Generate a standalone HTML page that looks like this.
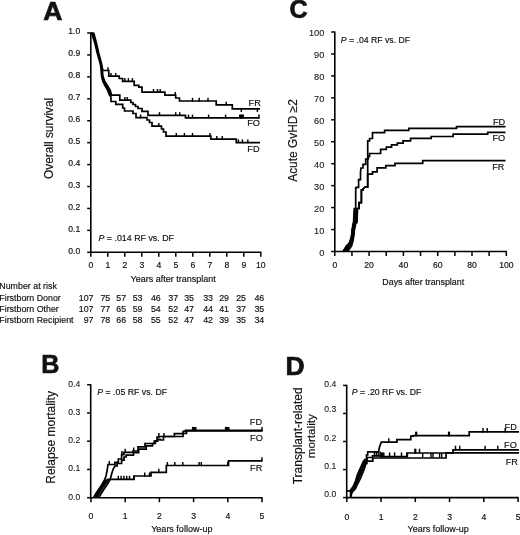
<!DOCTYPE html>
<html><head><meta charset="utf-8"><style>
html,body{margin:0;padding:0;background:#fff;}
svg{display:block;}
text{font-family:"Liberation Sans", sans-serif;fill:#111;stroke:#111;stroke-width:0.17px;}
svg{will-change:transform;}
</style></head><body>
<svg width="520" height="535" viewBox="0 0 520 535" stroke="#000" stroke-linecap="butt">
<g stroke="none">
</g>
<text transform="translate(43.3,19.6) scale(1.0,1.0)" font-size="26.5" font-weight="bold" style="stroke-width:0.7px">A</text>
<line x1="90.8" y1="32.4" x2="90.8" y2="252.9" stroke-width="1.6"/>
<line x1="87.2" y1="33.0" x2="90.8" y2="33.0" stroke-width="1.5"/>
<text x="80.2" y="34.2" font-size="8.6" text-anchor="end" >1.0</text>
<line x1="87.2" y1="54.93" x2="90.8" y2="54.93" stroke-width="1.5"/>
<text x="80.2" y="56.13" font-size="8.6" text-anchor="end" >0.9</text>
<line x1="87.2" y1="76.86" x2="90.8" y2="76.86" stroke-width="1.5"/>
<text x="80.2" y="78.06" font-size="8.6" text-anchor="end" >0.8</text>
<line x1="87.2" y1="98.79" x2="90.8" y2="98.79" stroke-width="1.5"/>
<text x="80.2" y="99.99" font-size="8.6" text-anchor="end" >0.7</text>
<line x1="87.2" y1="120.72" x2="90.8" y2="120.72" stroke-width="1.5"/>
<text x="80.2" y="121.92" font-size="8.6" text-anchor="end" >0.6</text>
<line x1="87.2" y1="142.65" x2="90.8" y2="142.65" stroke-width="1.5"/>
<text x="80.2" y="143.85" font-size="8.6" text-anchor="end" >0.5</text>
<line x1="87.2" y1="164.58" x2="90.8" y2="164.58" stroke-width="1.5"/>
<text x="80.2" y="165.78" font-size="8.6" text-anchor="end" >0.4</text>
<line x1="87.2" y1="186.51" x2="90.8" y2="186.51" stroke-width="1.5"/>
<text x="80.2" y="187.71" font-size="8.6" text-anchor="end" >0.3</text>
<line x1="87.2" y1="208.44" x2="90.8" y2="208.44" stroke-width="1.5"/>
<text x="80.2" y="209.64" font-size="8.6" text-anchor="end" >0.2</text>
<line x1="87.2" y1="230.37" x2="90.8" y2="230.37" stroke-width="1.5"/>
<text x="80.2" y="231.57" font-size="8.6" text-anchor="end" >0.1</text>
<line x1="87.2" y1="252.3" x2="90.8" y2="252.3" stroke-width="1.5"/>
<text x="80.2" y="253.5" font-size="8.6" text-anchor="end" >0.0</text>
<line x1="90.2" y1="252.3" x2="261.40000000000003" y2="252.3" stroke-width="1.6"/>
<line x1="90.8" y1="252.3" x2="90.8" y2="256.8" stroke-width="1.5"/>
<text x="90.8" y="268.4" font-size="8.6" text-anchor="middle" >0</text>
<line x1="107.8" y1="252.3" x2="107.8" y2="256.8" stroke-width="1.5"/>
<text x="107.8" y="268.4" font-size="8.6" text-anchor="middle" >1</text>
<line x1="124.8" y1="252.3" x2="124.8" y2="256.8" stroke-width="1.5"/>
<text x="124.8" y="268.4" font-size="8.6" text-anchor="middle" >2</text>
<line x1="141.8" y1="252.3" x2="141.8" y2="256.8" stroke-width="1.5"/>
<text x="141.8" y="268.4" font-size="8.6" text-anchor="middle" >3</text>
<line x1="158.8" y1="252.3" x2="158.8" y2="256.8" stroke-width="1.5"/>
<text x="158.8" y="268.4" font-size="8.6" text-anchor="middle" >4</text>
<line x1="175.8" y1="252.3" x2="175.8" y2="256.8" stroke-width="1.5"/>
<text x="175.8" y="268.4" font-size="8.6" text-anchor="middle" >5</text>
<line x1="192.8" y1="252.3" x2="192.8" y2="256.8" stroke-width="1.5"/>
<text x="192.8" y="268.4" font-size="8.6" text-anchor="middle" >6</text>
<line x1="209.8" y1="252.3" x2="209.8" y2="256.8" stroke-width="1.5"/>
<text x="209.8" y="268.4" font-size="8.6" text-anchor="middle" >7</text>
<line x1="226.8" y1="252.3" x2="226.8" y2="256.8" stroke-width="1.5"/>
<text x="226.8" y="268.4" font-size="8.6" text-anchor="middle" >8</text>
<line x1="243.8" y1="252.3" x2="243.8" y2="256.8" stroke-width="1.5"/>
<text x="243.8" y="268.4" font-size="8.6" text-anchor="middle" >9</text>
<line x1="260.8" y1="252.3" x2="260.8" y2="256.8" stroke-width="1.5"/>
<text x="260.8" y="268.4" font-size="8.6" text-anchor="middle" >10</text>
<text x="130.6" y="282.4" font-size="9.0" text-anchor="start" >Years after transplant</text>
<text transform="translate(52.6,138.4) rotate(-90)" font-size="11.9" text-anchor="middle">Overall survival</text>
<text x="98.5" y="240.7" font-size="8.85"><tspan font-style="italic">P</tspan> = .014 RF vs. DF</text>
<polygon points="100.6,65.5 101,69 101.6,76 102.8,81.2 105,85.5 107.7,90.4 109.5,95 111.6,95.2 110.2,90.4 107.4,85.4 104.5,81 102.9,76 102.2,69 101.2,65" fill="#111" stroke="none"/>
<path d="M 91 33 L 93.8 33.3 L 96.4 43 L 98.7 53 L 101 61.6 L 101.8 65 L 102.2 67.5 L 103 70.5 H 108.8 V 76.2 H 119.2 V 78.5 H 122.6 V 81.3 H 134.2 V 85.4 H 138.8 V 87.1 H 142 V 92.2 H 164.9 V 95.2 H 175.7 V 98 H 179.5 V 101 H 216.2 V 104.9 H 232.3 V 108.9 H 260" fill="none" stroke-width="1.7" stroke-linejoin="miter"/>
<line x1="108" y1="71.1" x2="108" y2="67.3" stroke-width="1.45"/>
<line x1="111" y1="76.8" x2="111" y2="73.0" stroke-width="1.45"/>
<line x1="115.7" y1="76.8" x2="115.7" y2="73.0" stroke-width="1.45"/>
<line x1="124.9" y1="81.89999999999999" x2="124.9" y2="78.1" stroke-width="1.45"/>
<line x1="128.4" y1="81.89999999999999" x2="128.4" y2="78.1" stroke-width="1.45"/>
<line x1="132.4" y1="81.89999999999999" x2="132.4" y2="78.1" stroke-width="1.45"/>
<line x1="153.5" y1="92.8" x2="153.5" y2="89.0" stroke-width="1.45"/>
<line x1="157.5" y1="92.8" x2="157.5" y2="89.0" stroke-width="1.45"/>
<line x1="160.2" y1="92.8" x2="160.2" y2="89.0" stroke-width="1.45"/>
<line x1="175.2" y1="95.8" x2="175.2" y2="92.0" stroke-width="1.45"/>
<line x1="192.5" y1="101.6" x2="192.5" y2="97.8" stroke-width="1.45"/>
<line x1="199.2" y1="101.6" x2="199.2" y2="97.8" stroke-width="1.45"/>
<line x1="208" y1="101.6" x2="208" y2="97.8" stroke-width="1.45"/>
<line x1="226.2" y1="105.5" x2="226.2" y2="101.7" stroke-width="1.45"/>
<line x1="241.3" y1="108.30000000000001" x2="241.3" y2="112.10000000000001" stroke-width="1.45"/>
<line x1="257.4" y1="108.30000000000001" x2="257.4" y2="112.10000000000001" stroke-width="1.45"/>
<path d="M 91 33 L 93 33.4 L 95.7 43 L 98 53 L 100.4 61.6 L 101.2 65 L 102.2 69 L 102.9 76 L 104.5 81 L 107.4 85.4 L 110.2 90.4 L 111.6 95.2 H 119.8 V 100.2 H 130.8 V 102.5 H 133 V 104.5 H 135.5 V 106.5 H 138 V 108.5 H 142 V 111.3 H 148 V 115.4 H 185.5 V 117.8 H 259.5" fill="none" stroke-width="1.7" stroke-linejoin="miter"/>
<line x1="124.9" y1="100.8" x2="124.9" y2="97.0" stroke-width="1.45"/>
<line x1="127.2" y1="100.8" x2="127.2" y2="97.0" stroke-width="1.45"/>
<line x1="159.5" y1="116.0" x2="159.5" y2="112.2" stroke-width="1.45"/>
<line x1="175.7" y1="116.0" x2="175.7" y2="112.2" stroke-width="1.45"/>
<line x1="179.7" y1="116.0" x2="179.7" y2="112.2" stroke-width="1.45"/>
<line x1="188.5" y1="118.39999999999999" x2="188.5" y2="114.6" stroke-width="1.45"/>
<line x1="192.5" y1="118.39999999999999" x2="192.5" y2="114.6" stroke-width="1.45"/>
<line x1="208.6" y1="118.39999999999999" x2="208.6" y2="114.6" stroke-width="1.45"/>
<line x1="225.6" y1="118.39999999999999" x2="225.6" y2="114.6" stroke-width="1.45"/>
<line x1="239.7" y1="118.39999999999999" x2="239.7" y2="114.6" stroke-width="1.45"/>
<line x1="240.6" y1="118.39999999999999" x2="240.6" y2="114.6" stroke-width="1.45"/>
<line x1="241.5" y1="118.39999999999999" x2="241.5" y2="114.6" stroke-width="1.45"/>
<line x1="242.4" y1="118.39999999999999" x2="242.4" y2="114.6" stroke-width="1.45"/>
<line x1="243.2" y1="118.39999999999999" x2="243.2" y2="114.6" stroke-width="1.45"/>
<line x1="258.9" y1="118.39999999999999" x2="258.9" y2="114.6" stroke-width="1.45"/>
<path d="M 91 33.6 L 92.3 35 L 95 43.5 L 97.3 53.5 L 99.8 62 L 100.6 65.5 L 101 69 L 101.6 76 L 102.8 81.2 L 105 85.5 L 107.7 90.4 L 109.5 95 L 111 97 V 101.5 H 115.8 V 104.4 H 122.7 V 108 H 124.5 V 111 H 133 V 113.5 H 136 V 117.7 H 147 V 120 H 149.5 V 122.5 H 152 V 126.1 H 161.5 V 129 H 163.5 V 132 H 166 V 136.2 H 210.8 V 139.2 H 236.3 V 142.6 H 260" fill="none" stroke-width="1.7" stroke-linejoin="miter"/>
<line x1="140.6" y1="118.3" x2="140.6" y2="114.5" stroke-width="1.45"/>
<line x1="158.8" y1="126.69999999999999" x2="158.8" y2="122.89999999999999" stroke-width="1.45"/>
<line x1="176.3" y1="136.79999999999998" x2="176.3" y2="133.0" stroke-width="1.45"/>
<line x1="184.4" y1="136.79999999999998" x2="184.4" y2="133.0" stroke-width="1.45"/>
<line x1="192.5" y1="136.79999999999998" x2="192.5" y2="133.0" stroke-width="1.45"/>
<line x1="210" y1="136.79999999999998" x2="210" y2="133.0" stroke-width="1.45"/>
<line x1="216.8" y1="139.79999999999998" x2="216.8" y2="136.0" stroke-width="1.45"/>
<line x1="222.2" y1="139.79999999999998" x2="222.2" y2="136.0" stroke-width="1.45"/>
<line x1="238.4" y1="143.2" x2="238.4" y2="139.4" stroke-width="1.45"/>
<line x1="242.4" y1="143.2" x2="242.4" y2="139.4" stroke-width="1.45"/>
<line x1="247.8" y1="143.2" x2="247.8" y2="139.4" stroke-width="1.45"/>
<text x="260.8" y="106.2" font-size="9.2" text-anchor="end" >FR</text>
<text x="260.0" y="126.4" font-size="9.2" text-anchor="end" >FO</text>
<text x="259.6" y="151.9" font-size="9.2" text-anchor="end" >FD</text>
<text x="-0.7" y="288.5" font-size="8.85" text-anchor="start" >Number at risk</text>
<text x="-0.7" y="300.9" font-size="8.85" text-anchor="start" >Firstborn Donor</text>
<text x="93.5" y="300.9" font-size="8.85" text-anchor="end" >107</text>
<text x="110.3" y="300.9" font-size="8.85" text-anchor="end" >75</text>
<text x="126.2" y="300.9" font-size="8.85" text-anchor="end" >57</text>
<text x="142.5" y="300.9" font-size="8.85" text-anchor="end" >53</text>
<text x="160.8" y="300.9" font-size="8.85" text-anchor="end" >46</text>
<text x="178.2" y="300.9" font-size="8.85" text-anchor="end" >37</text>
<text x="194.0" y="300.9" font-size="8.85" text-anchor="end" >35</text>
<text x="213.0" y="300.9" font-size="8.85" text-anchor="end" >33</text>
<text x="229.0" y="300.9" font-size="8.85" text-anchor="end" >29</text>
<text x="246.0" y="300.9" font-size="8.85" text-anchor="end" >25</text>
<text x="264.3" y="300.9" font-size="8.85" text-anchor="end" >46</text>
<text x="-0.7" y="311.6" font-size="8.85" text-anchor="start" >Firstborn Other</text>
<text x="93.5" y="311.6" font-size="8.85" text-anchor="end" >107</text>
<text x="110.3" y="311.6" font-size="8.85" text-anchor="end" >77</text>
<text x="126.2" y="311.6" font-size="8.85" text-anchor="end" >65</text>
<text x="142.5" y="311.6" font-size="8.85" text-anchor="end" >59</text>
<text x="160.8" y="311.6" font-size="8.85" text-anchor="end" >54</text>
<text x="178.2" y="311.6" font-size="8.85" text-anchor="end" >52</text>
<text x="194.0" y="311.6" font-size="8.85" text-anchor="end" >47</text>
<text x="213.0" y="311.6" font-size="8.85" text-anchor="end" >44</text>
<text x="229.0" y="311.6" font-size="8.85" text-anchor="end" >41</text>
<text x="246.0" y="311.6" font-size="8.85" text-anchor="end" >37</text>
<text x="264.3" y="311.6" font-size="8.85" text-anchor="end" >35</text>
<text x="-0.7" y="322.6" font-size="8.85" text-anchor="start" >Firstborn Recipient</text>
<text x="93.5" y="322.6" font-size="8.85" text-anchor="end" >97</text>
<text x="110.3" y="322.6" font-size="8.85" text-anchor="end" >78</text>
<text x="126.2" y="322.6" font-size="8.85" text-anchor="end" >66</text>
<text x="142.5" y="322.6" font-size="8.85" text-anchor="end" >58</text>
<text x="160.8" y="322.6" font-size="8.85" text-anchor="end" >55</text>
<text x="178.2" y="322.6" font-size="8.85" text-anchor="end" >52</text>
<text x="194.0" y="322.6" font-size="8.85" text-anchor="end" >47</text>
<text x="213.0" y="322.6" font-size="8.85" text-anchor="end" >42</text>
<text x="229.0" y="322.6" font-size="8.85" text-anchor="end" >39</text>
<text x="246.0" y="322.6" font-size="8.85" text-anchor="end" >35</text>
<text x="264.3" y="322.6" font-size="8.85" text-anchor="end" >34</text>
<text transform="translate(289.5,18.4) scale(0.95,1.0)" font-size="26.5" font-weight="bold" style="stroke-width:0.7px">C</text>
<line x1="334.8" y1="31.4" x2="334.8" y2="252.1" stroke-width="1.6"/>
<line x1="331.2" y1="251.5" x2="334.8" y2="251.5" stroke-width="1.5"/>
<text x="324.3" y="255.7" font-size="9.2" text-anchor="end" style="stroke-width:0.08px">0</text>
<line x1="331.2" y1="229.55" x2="334.8" y2="229.55" stroke-width="1.5"/>
<text x="324.3" y="233.75" font-size="9.2" text-anchor="end" style="stroke-width:0.08px">10</text>
<line x1="331.2" y1="207.6" x2="334.8" y2="207.6" stroke-width="1.5"/>
<text x="324.3" y="211.8" font-size="9.2" text-anchor="end" style="stroke-width:0.08px">20</text>
<line x1="331.2" y1="185.65" x2="334.8" y2="185.65" stroke-width="1.5"/>
<text x="324.3" y="189.85" font-size="9.2" text-anchor="end" style="stroke-width:0.08px">30</text>
<line x1="331.2" y1="163.7" x2="334.8" y2="163.7" stroke-width="1.5"/>
<text x="324.3" y="167.9" font-size="9.2" text-anchor="end" style="stroke-width:0.08px">40</text>
<line x1="331.2" y1="141.75" x2="334.8" y2="141.75" stroke-width="1.5"/>
<text x="324.3" y="145.95" font-size="9.2" text-anchor="end" style="stroke-width:0.08px">50</text>
<line x1="331.2" y1="119.8" x2="334.8" y2="119.8" stroke-width="1.5"/>
<text x="324.3" y="124.0" font-size="9.2" text-anchor="end" style="stroke-width:0.08px">60</text>
<line x1="331.2" y1="97.85" x2="334.8" y2="97.85" stroke-width="1.5"/>
<text x="324.3" y="102.05" font-size="9.2" text-anchor="end" style="stroke-width:0.08px">70</text>
<line x1="331.2" y1="75.9" x2="334.8" y2="75.9" stroke-width="1.5"/>
<text x="324.3" y="80.1" font-size="9.2" text-anchor="end" style="stroke-width:0.08px">80</text>
<line x1="331.2" y1="53.95" x2="334.8" y2="53.95" stroke-width="1.5"/>
<text x="324.3" y="58.15" font-size="9.2" text-anchor="end" style="stroke-width:0.08px">90</text>
<line x1="331.2" y1="32.0" x2="334.8" y2="32.0" stroke-width="1.5"/>
<text x="324.3" y="36.2" font-size="9.2" text-anchor="end" style="stroke-width:0.08px">100</text>
<line x1="334.2" y1="251.5" x2="506.90000000000003" y2="251.5" stroke-width="1.6"/>
<line x1="334.8" y1="251.5" x2="334.8" y2="256.0" stroke-width="1.5"/>
<text x="334.8" y="267.9" font-size="8.6" text-anchor="middle" >0</text>
<line x1="351.95" y1="251.5" x2="351.95" y2="256.0" stroke-width="1.5"/>
<line x1="369.1" y1="251.5" x2="369.1" y2="256.0" stroke-width="1.5"/>
<text x="369.1" y="267.9" font-size="8.6" text-anchor="middle" >20</text>
<line x1="386.25" y1="251.5" x2="386.25" y2="256.0" stroke-width="1.5"/>
<line x1="403.4" y1="251.5" x2="403.4" y2="256.0" stroke-width="1.5"/>
<text x="403.4" y="267.9" font-size="8.6" text-anchor="middle" >40</text>
<line x1="420.55" y1="251.5" x2="420.55" y2="256.0" stroke-width="1.5"/>
<line x1="437.7" y1="251.5" x2="437.7" y2="256.0" stroke-width="1.5"/>
<text x="437.7" y="267.9" font-size="8.6" text-anchor="middle" >60</text>
<line x1="454.85" y1="251.5" x2="454.85" y2="256.0" stroke-width="1.5"/>
<line x1="472.0" y1="251.5" x2="472.0" y2="256.0" stroke-width="1.5"/>
<text x="472.0" y="267.9" font-size="8.6" text-anchor="middle" >80</text>
<line x1="489.15" y1="251.5" x2="489.15" y2="256.0" stroke-width="1.5"/>
<line x1="506.3" y1="251.5" x2="506.3" y2="256.0" stroke-width="1.5"/>
<text x="506.3" y="267.9" font-size="8.6" text-anchor="middle" >100</text>
<text x="382.3" y="285.4" font-size="8.9" text-anchor="start" >Days after transplant</text>
<text transform="translate(297.2,140.5) rotate(-90)" font-size="11.9" text-anchor="middle">Acute GvHD ≥2</text>
<text x="340.8" y="42.6" font-size="8.7"><tspan font-style="italic">P</tspan> = .04 RF vs. DF</text>
<polygon points="343,251.5 347.8,251.5 350.8,245.5 352.6,242.5 353,237.5 354.7,235 355,228 355.2,223.5 357,221.5 357.8,215 357.8,209.5 354,209.5 353.5,215 353,221.4 352.6,227.8 351.3,228.5 351,235.6 350.3,237.7 348.5,242.7 345.7,245.5 343.2,249.8" fill="#000" stroke="none"/>
<path d="M 345 251.5 L 350.8 243.5 L 352 239.5 L 352.6 236 L 353.2 230 L 354.3 224 L 355.5 222.5 L 356 214 L 356.3 208.5 H 359 V 202.7 H 361.4 V 190 H 362.9 V 189 L 365 187 H 367.7 V 140.8 H 369.6 V 138.5 H 372.5 V 132.7 H 384.6 V 130.4 H 408.8 V 128.3 H 456.5 V 126.6 H 505.5" fill="none" stroke-width="1.7" stroke-linejoin="miter"/>
<path d="M 347.5 251.5 L 351.6 246 L 353 240.5 L 353.8 236 L 354.4 230 L 355.6 224 L 357 222.5 L 357.3 214 L 357.6 208.5 H 359 V 202.7 H 361.4 V 190 H 362.9 V 189 L 365 187 H 367.7 V 174.2 H 372.5 V 171.9 H 377.1 V 167.9 H 385.8 V 165.6 H 395 V 163.3 H 422.7 V 160.7 H 505.5" fill="none" stroke-width="1.7" stroke-linejoin="miter"/>
<path d="M 342.8 251.5 L 349.8 242.5 L 350.8 239.5 L 351.5 236 L 352.2 230 L 352.8 225 L 353.6 222 L 354 213 L 354.3 208.5 H 355.7 V 188 H 356.2 V 187.3 H 358.6 V 179.6 H 360.5 V 172 L 361 168 H 363 V 164.3 H 365.7 V 159 H 368.3 V 156.4 H 369.6 V 153.5 H 380.6 V 149.4 H 386.3 V 147.1 H 391.5 V 144.8 H 397.3 V 143.1 H 403.1 V 140.8 H 410.6 V 138.3 H 431.2 V 136.5 H 453.1 V 134.2 H 487.7 V 132.4 H 505.5" fill="none" stroke-width="1.7" stroke-linejoin="miter"/>
<text x="505.2" y="125.0" font-size="9.2" text-anchor="end" >FD</text>
<text x="505.2" y="140.7" font-size="9.2" text-anchor="end" >FO</text>
<text x="504.3" y="169.8" font-size="9.0" text-anchor="end" >FR</text>
<text transform="translate(41.2,372.9) scale(0.95,1.0)" font-size="26.5" font-weight="bold" style="stroke-width:0.7px">B</text>
<line x1="90.7" y1="384.09999999999997" x2="90.7" y2="498.3" stroke-width="1.6"/>
<line x1="87.10000000000001" y1="497.7" x2="90.7" y2="497.7" stroke-width="1.5"/>
<text x="80.3" y="499.5" font-size="8.6" text-anchor="end" style="stroke-width:0.08px">0.0</text>
<line x1="87.10000000000001" y1="469.45" x2="90.7" y2="469.45" stroke-width="1.5"/>
<text x="80.3" y="471.25" font-size="8.6" text-anchor="end" style="stroke-width:0.08px">0.1</text>
<line x1="87.10000000000001" y1="441.2" x2="90.7" y2="441.2" stroke-width="1.5"/>
<text x="80.3" y="443.0" font-size="8.6" text-anchor="end" style="stroke-width:0.08px">0.2</text>
<line x1="87.10000000000001" y1="412.95" x2="90.7" y2="412.95" stroke-width="1.5"/>
<text x="80.3" y="414.75" font-size="8.6" text-anchor="end" style="stroke-width:0.08px">0.3</text>
<line x1="87.10000000000001" y1="384.7" x2="90.7" y2="384.7" stroke-width="1.5"/>
<text x="80.3" y="386.5" font-size="8.6" text-anchor="end" style="stroke-width:0.08px">0.4</text>
<line x1="90.10000000000001" y1="497.7" x2="262.6" y2="497.7" stroke-width="1.6"/>
<line x1="91.0" y1="497.7" x2="91.0" y2="502.2" stroke-width="1.5"/>
<text x="91.0" y="518.8" font-size="8.6" text-anchor="middle" >0</text>
<line x1="125.2" y1="497.7" x2="125.2" y2="502.2" stroke-width="1.5"/>
<text x="125.2" y="518.8" font-size="8.6" text-anchor="middle" >1</text>
<line x1="159.4" y1="497.7" x2="159.4" y2="502.2" stroke-width="1.5"/>
<text x="159.4" y="518.8" font-size="8.6" text-anchor="middle" >2</text>
<line x1="193.6" y1="497.7" x2="193.6" y2="502.2" stroke-width="1.5"/>
<text x="193.6" y="518.8" font-size="8.6" text-anchor="middle" >3</text>
<line x1="227.8" y1="497.7" x2="227.8" y2="502.2" stroke-width="1.5"/>
<text x="227.8" y="518.8" font-size="8.6" text-anchor="middle" >4</text>
<line x1="262.0" y1="497.7" x2="262.0" y2="502.2" stroke-width="1.5"/>
<text x="262.0" y="518.8" font-size="8.6" text-anchor="middle" >5</text>
<text x="151.2" y="531.8" font-size="9.0" text-anchor="start" >Years follow-up</text>
<text transform="translate(55.2,437.4) rotate(-90)" font-size="12" text-anchor="middle">Relapse mortality</text>
<text x="97.3" y="395.0" font-size="8.75"><tspan font-style="italic">P</tspan> = .05 RF vs. DF</text>
<polygon points="93.6,497.7 95.2,493.5 97.7,489.8 100.2,486.2 102.7,482.6 104.8,479.4 109.8,479.4 107.6,483 104.9,487 102.1,491 99.6,494.5 98.2,497.7" fill="#2a2a2a" stroke="none"/>
<path d="M 93.5 497.7 L 96 493.5 L 99 489 L 102 484.5 L 104.8 479.4 L 106 476 L 107.2 470 L 108 464.5 H 110 V 464.5 H 114.9 V 462.4 H 118.3 V 459 H 121.6 V 454.6 H 123.9 V 452.3 H 132.9 V 451 H 138 V 446.9 H 145 V 443.5 H 154.2 V 441.2 H 157 V 437.1 H 158.8 V 436.5 H 174.4 V 433.7 H 183.1 V 431.3 H 185.5 V 430.4 H 262.6" fill="none" stroke-width="1.7" stroke-linejoin="miter"/>
<line x1="109.3" y1="465.1" x2="109.3" y2="461.0" stroke-width="1.45"/>
<line x1="121.9" y1="455.20000000000005" x2="121.9" y2="451.1" stroke-width="1.45"/>
<line x1="125.2" y1="452.90000000000003" x2="125.2" y2="448.8" stroke-width="1.45"/>
<line x1="133.7" y1="451.6" x2="133.7" y2="447.5" stroke-width="1.45"/>
<line x1="158.8" y1="437.1" x2="158.8" y2="433.0" stroke-width="1.45"/>
<line x1="164" y1="437.1" x2="164" y2="433.0" stroke-width="1.45"/>
<line x1="192.6" y1="431.0" x2="192.6" y2="426.9" stroke-width="1.45"/>
<line x1="193.4" y1="431.0" x2="193.4" y2="426.9" stroke-width="1.45"/>
<line x1="194.2" y1="431.0" x2="194.2" y2="426.9" stroke-width="1.45"/>
<line x1="195" y1="431.0" x2="195" y2="426.9" stroke-width="1.45"/>
<line x1="195.8" y1="431.0" x2="195.8" y2="426.9" stroke-width="1.45"/>
<line x1="225.6" y1="431.0" x2="225.6" y2="426.9" stroke-width="1.45"/>
<line x1="226.4" y1="431.0" x2="226.4" y2="426.9" stroke-width="1.45"/>
<line x1="227.2" y1="431.0" x2="227.2" y2="426.9" stroke-width="1.45"/>
<line x1="228" y1="431.0" x2="228" y2="426.9" stroke-width="1.45"/>
<line x1="228.8" y1="431.0" x2="228.8" y2="426.9" stroke-width="1.45"/>
<line x1="262.0" y1="431.0" x2="262.0" y2="426.9" stroke-width="1.45"/>
<path d="M 98.6 497.7 L 101.5 493 L 104.5 488.5 L 107.5 484 L 110.2 479.4 L 111.6 474 L 113.2 469 L 115 465.9 L 117.1 465.9 V 463.5 H 121.6 V 460.2 H 124 V 457 H 126.1 V 455.1 H 133.5 V 452.7 H 138.7 V 449.2 H 146.2 V 445.8 H 152.5 V 443.5 H 155.4 V 441.2 H 157.7 V 439.4 H 160 V 440 H 163.5 V 436.5 H 183 V 433.5 H 186.5 V 431 H 262.6" fill="none" stroke-width="1.7" stroke-linejoin="miter"/>
<path d="M 96 497.7 L 99.5 491 L 102.5 486.5 L 105.5 482 L 107.5 479.3 H 134 V 476 H 151 V 472.3 H 166.3 V 465.5 H 228.5 V 460.8 H 262.3" fill="none" stroke-width="1.7" stroke-linejoin="miter"/>
<line x1="118.3" y1="479.90000000000003" x2="118.3" y2="475.8" stroke-width="1.45"/>
<line x1="121.1" y1="479.90000000000003" x2="121.1" y2="475.8" stroke-width="1.45"/>
<line x1="123.9" y1="479.90000000000003" x2="123.9" y2="475.8" stroke-width="1.45"/>
<line x1="126.7" y1="479.90000000000003" x2="126.7" y2="475.8" stroke-width="1.45"/>
<line x1="129.5" y1="479.90000000000003" x2="129.5" y2="475.8" stroke-width="1.45"/>
<line x1="133.9" y1="479.90000000000003" x2="133.9" y2="475.8" stroke-width="1.45"/>
<line x1="144.7" y1="476.6" x2="144.7" y2="472.5" stroke-width="1.45"/>
<line x1="149.5" y1="476.6" x2="149.5" y2="472.5" stroke-width="1.45"/>
<line x1="158.8" y1="472.90000000000003" x2="158.8" y2="468.8" stroke-width="1.45"/>
<line x1="167.4" y1="466.1" x2="167.4" y2="462.0" stroke-width="1.45"/>
<line x1="174.8" y1="466.1" x2="174.8" y2="462.0" stroke-width="1.45"/>
<line x1="182.8" y1="466.1" x2="182.8" y2="462.0" stroke-width="1.45"/>
<line x1="199.1" y1="466.1" x2="199.1" y2="462.0" stroke-width="1.45"/>
<line x1="201.3" y1="466.1" x2="201.3" y2="462.0" stroke-width="1.45"/>
<line x1="227.7" y1="466.1" x2="227.7" y2="462.0" stroke-width="1.45"/>
<line x1="261.9" y1="461.40000000000003" x2="261.9" y2="457.3" stroke-width="1.45"/>
<text x="262.1" y="425.4" font-size="9.2" text-anchor="end" >FD</text>
<text x="262.8" y="440.6" font-size="9.2" text-anchor="end" >FO</text>
<text x="262.3" y="470.5" font-size="9.2" text-anchor="end" >FR</text>
<text transform="translate(285.5,374.7) scale(1.0,1.0)" font-size="26.5" font-weight="bold" style="stroke-width:0.7px">D</text>
<line x1="346.7" y1="384.79999999999995" x2="346.7" y2="498.20000000000005" stroke-width="1.6"/>
<line x1="343.09999999999997" y1="497.6" x2="346.7" y2="497.6" stroke-width="1.5"/>
<text x="336.3" y="496.8" font-size="8.6" text-anchor="end" style="stroke-width:0.08px">0.0</text>
<line x1="343.09999999999997" y1="469.55" x2="346.7" y2="469.55" stroke-width="1.5"/>
<text x="336.3" y="469.45" font-size="8.6" text-anchor="end" style="stroke-width:0.08px">0.1</text>
<line x1="343.09999999999997" y1="441.5" x2="346.7" y2="441.5" stroke-width="1.5"/>
<text x="336.3" y="440.5" font-size="8.6" text-anchor="end" style="stroke-width:0.08px">0.2</text>
<line x1="343.09999999999997" y1="413.45" x2="346.7" y2="413.45" stroke-width="1.5"/>
<text x="336.3" y="412.45" font-size="8.6" text-anchor="end" style="stroke-width:0.08px">0.3</text>
<line x1="343.09999999999997" y1="385.4" x2="346.7" y2="385.4" stroke-width="1.5"/>
<text x="336.3" y="387.1" font-size="8.6" text-anchor="end" style="stroke-width:0.08px">0.4</text>
<line x1="346.09999999999997" y1="497.6" x2="518.65" y2="497.6" stroke-width="1.6"/>
<line x1="346.8" y1="497.6" x2="346.8" y2="502.1" stroke-width="1.5"/>
<text x="346.8" y="520.4" font-size="8.6" text-anchor="middle" >0</text>
<line x1="381.05" y1="497.6" x2="381.05" y2="502.1" stroke-width="1.5"/>
<text x="381.05" y="520.4" font-size="8.6" text-anchor="middle" >1</text>
<line x1="415.3" y1="497.6" x2="415.3" y2="502.1" stroke-width="1.5"/>
<text x="415.3" y="520.4" font-size="8.6" text-anchor="middle" >2</text>
<line x1="449.55" y1="497.6" x2="449.55" y2="502.1" stroke-width="1.5"/>
<text x="449.55" y="520.4" font-size="8.6" text-anchor="middle" >3</text>
<line x1="483.8" y1="497.6" x2="483.8" y2="502.1" stroke-width="1.5"/>
<text x="483.8" y="520.4" font-size="8.6" text-anchor="middle" >4</text>
<line x1="518.05" y1="497.6" x2="518.05" y2="502.1" stroke-width="1.5"/>
<text x="518.05" y="520.4" font-size="8.6" text-anchor="middle" >5</text>
<text x="407.5" y="532.2" font-size="9.0" text-anchor="start" >Years follow-up</text>
<text transform="translate(302.3,435.8) rotate(-90)" font-size="12" text-anchor="middle">Transplant-related</text>
<text transform="translate(314.9,436.2) rotate(-90)" font-size="11.7" text-anchor="middle">mortality</text>
<text x="351.7" y="395.0" font-size="8.75"><tspan font-style="italic">P</tspan> = .20 RF vs. DF</text>
<polygon points="350.3,491 353.5,486.6 356,480.3 357.6,474.8 359.7,469.8 361.8,465.3 363.4,461.8 365.5,459.5 366,461.5 365,464.5 363.6,469 361.5,474 359.3,479 356.7,484.5 354.9,488.5 352,492 351.2,494" fill="#111" stroke="none"/>
<path d="M 346.8 490.8 H 350 L 353.2 486.5 L 355.7 480.5 L 357.3 475 L 359.4 470 L 361.5 465.5 L 363.1 462 L 364.8 459.5 H 366.5 V 455 H 367.7 V 451.9 H 378.5 L 379.5 447 L 381.3 442.2 H 396.9 V 439.6 H 410.8 V 436.2 H 413.2 V 435.7 H 469.2 V 431.9 H 519" fill="none" stroke-width="1.7" stroke-linejoin="miter"/>
<line x1="388.8" y1="442.8" x2="388.8" y2="438.2" stroke-width="1.45"/>
<line x1="415.8" y1="436.3" x2="415.8" y2="431.7" stroke-width="1.45"/>
<line x1="416.6" y1="436.3" x2="416.6" y2="431.7" stroke-width="1.45"/>
<line x1="448.6" y1="436.3" x2="448.6" y2="431.7" stroke-width="1.45"/>
<line x1="449.4" y1="436.3" x2="449.4" y2="431.7" stroke-width="1.45"/>
<line x1="483" y1="432.5" x2="483" y2="427.9" stroke-width="1.45"/>
<line x1="487.2" y1="432.5" x2="487.2" y2="427.9" stroke-width="1.45"/>
<line x1="505.2" y1="432.5" x2="505.2" y2="427.9" stroke-width="1.45"/>
<path d="M 350.6 497.6 V 492 L 352.5 490 L 355 486 L 357 482 L 359 477 L 361 472.5 L 363 468 L 364.8 464 L 366 461 H 367 V 457.5 H 372.5 V 455.8 H 380.5 V 456.6 H 407.3 V 453 H 453 V 449.9 H 519" fill="none" stroke-width="1.7" stroke-linejoin="miter"/>
<line x1="374.5" y1="456.40000000000003" x2="374.5" y2="451.6" stroke-width="1.45"/>
<line x1="376.5" y1="456.40000000000003" x2="376.5" y2="451.6" stroke-width="1.45"/>
<line x1="378.5" y1="456.40000000000003" x2="378.5" y2="451.6" stroke-width="1.45"/>
<line x1="380.2" y1="456.40000000000003" x2="380.2" y2="451.6" stroke-width="1.45"/>
<line x1="381.4" y1="457.20000000000005" x2="381.4" y2="452.40000000000003" stroke-width="1.45"/>
<line x1="382.6" y1="457.20000000000005" x2="382.6" y2="452.40000000000003" stroke-width="1.45"/>
<line x1="383.8" y1="457.20000000000005" x2="383.8" y2="452.40000000000003" stroke-width="1.45"/>
<line x1="389.6" y1="457.20000000000005" x2="389.6" y2="452.40000000000003" stroke-width="1.45"/>
<line x1="394.6" y1="457.20000000000005" x2="394.6" y2="452.40000000000003" stroke-width="1.45"/>
<line x1="401.5" y1="457.20000000000005" x2="401.5" y2="452.40000000000003" stroke-width="1.45"/>
<line x1="406.7" y1="457.20000000000005" x2="406.7" y2="452.40000000000003" stroke-width="1.45"/>
<line x1="414.9" y1="453.6" x2="414.9" y2="448.8" stroke-width="1.45"/>
<line x1="415.7" y1="453.6" x2="415.7" y2="448.8" stroke-width="1.45"/>
<line x1="419.5" y1="453.6" x2="419.5" y2="448.8" stroke-width="1.45"/>
<line x1="455.5" y1="450.5" x2="455.5" y2="445.7" stroke-width="1.45"/>
<line x1="459.7" y1="450.5" x2="459.7" y2="445.7" stroke-width="1.45"/>
<line x1="485.1" y1="450.5" x2="485.1" y2="445.7" stroke-width="1.45"/>
<line x1="497.8" y1="450.5" x2="497.8" y2="445.7" stroke-width="1.45"/>
<path d="M 350.6 497.6 L 352 492.5 L 355.5 488.5 L 357.3 484.5 L 360.2 479 L 362.3 474 L 364.3 469 L 365.6 464.5 L 366.4 463.5 H 366.9 V 461.2 H 372.8 V 458 H 446 V 452.9 H 519" fill="none" stroke-width="1.7" stroke-linejoin="miter"/>
<line x1="422.7" y1="453" x2="422.7" y2="457.4" stroke-width="1.4"/>
<line x1="431" y1="453" x2="431" y2="457.4" stroke-width="1.4"/>
<line x1="433" y1="453" x2="433" y2="457.4" stroke-width="1.4"/>
<line x1="439.6" y1="453" x2="439.6" y2="457.4" stroke-width="1.4"/>
<line x1="441.7" y1="453" x2="441.7" y2="457.4" stroke-width="1.4"/>
<text x="516.8" y="429.8" font-size="9.2" text-anchor="end" >FD</text>
<text x="516.8" y="447.8" font-size="9.2" text-anchor="end" >FO</text>
<text x="517.9" y="464.7" font-size="9.2" text-anchor="end" >FR</text>
</svg>
</body></html>
